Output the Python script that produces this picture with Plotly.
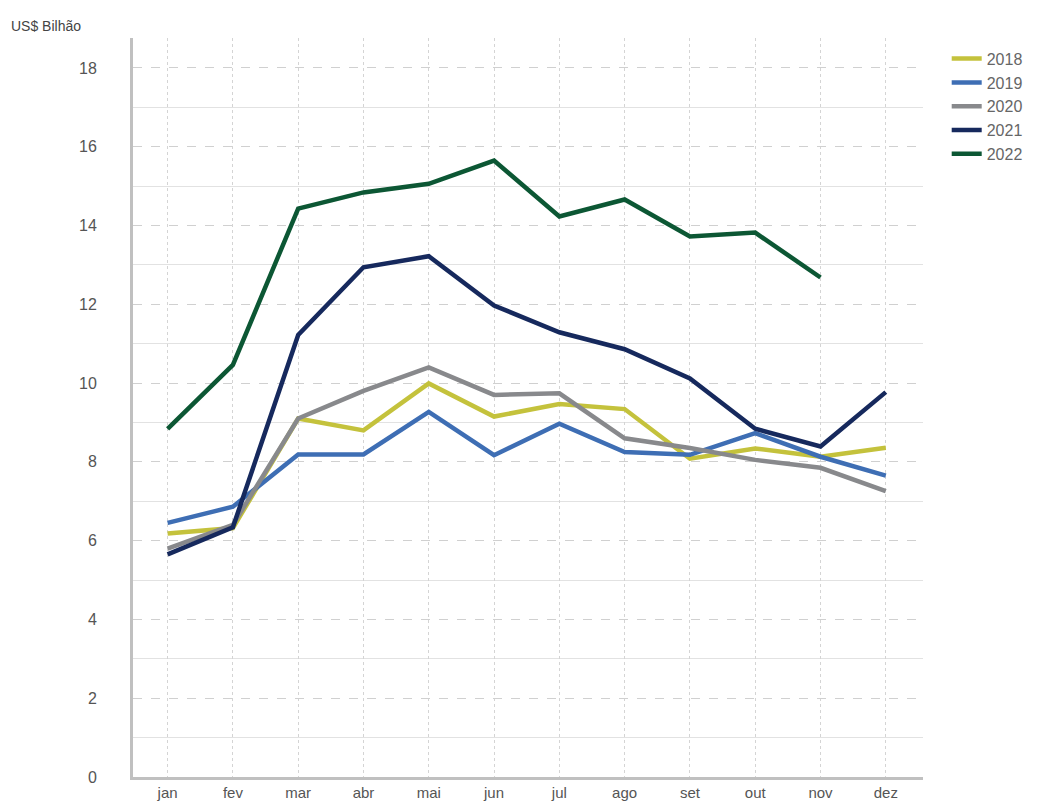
import plotly.graph_objects as go

months = ["jan", "fev", "mar", "abr", "mai", "jun", "jul", "ago", "set", "out", "nov", "dez"]

v2018 = [6.18, 6.32, 9.10, 8.80, 9.99, 9.15, 9.47, 9.34, 8.08, 8.34, 8.13, 8.36]
v2019 = [6.45, 6.86, 8.19, 8.19, 9.27, 8.17, 8.97, 8.25, 8.18, 8.73, 8.13, 7.65]
v2020 = [5.80, 6.40, 9.10, 9.80, 10.40, 9.70, 9.74, 8.60, 8.35, 8.05, 7.85, 7.26]
v2021 = [5.65, 6.34, 11.22, 12.94, 13.22, 11.97, 11.29, 10.86, 10.12, 8.84, 8.39, 9.77]
v2022 = [8.84, 10.46, 14.43, 14.84, 15.06, 15.65, 14.23, 14.66, 13.72, 13.82, 12.68]

series = [
    ("2018", v2018, "#c4c23c"),
    ("2019", v2019, "#3e6eb4"),
    ("2020", v2020, "#88898c"),
    ("2021", v2021, "#16295d"),
    ("2022", v2022, "#0c5734"),
]

fig = go.Figure()
for name, vals, color in series:
    fig.add_trace(go.Scatter(
        x=months[:len(vals)], y=vals, name=name, mode="lines",
        line=dict(color=color, width=4.5),
    ))

font = "Liberation Sans, Arial, sans-serif"
fig.update_layout(
    width=1040, height=802,
    margin=dict(l=133, r=117, t=38, b=25),
    paper_bgcolor="white", plot_bgcolor="white",
    font=dict(family=font, size=16, color="#555555"),
    showlegend=True,
    legend=dict(
        x=1.03, y=0.995, xanchor="left", yanchor="top",
        font=dict(size=16, color="#666666"),
        bgcolor="rgba(0,0,0,0)", tracegroupgap=0, itemwidth=30,
    ),
    xaxis=dict(
        type="category", categoryorder="array", categoryarray=months,
        range=[-0.53, 11.57], automargin=False,
        showgrid=True, gridcolor="#d4d4d4", griddash="dot", gridwidth=1,
        showline=True, linecolor="#c0c0c0", linewidth=3,
        ticks="", ticklabelstandoff=0,
        tickfont=dict(size=15, color="#555555"),
        zeroline=False,
    ),
    yaxis=dict(
        range=[0, 18.76], tickvals=[0, 2, 4, 6, 8, 10, 12, 14, 16, 18],
        automargin=False,
        showgrid=True, gridcolor="#d0d0d0", griddash="dash", gridwidth=1,
        minor=dict(tickvals=[1, 3, 5, 7, 9, 11, 13, 15, 17],
                   showgrid=True, gridcolor="#e2e2e2", griddash="solid", gridwidth=1),
        showline=True, linecolor="#c0c0c0", linewidth=3,
        ticks="", ticklabelstandoff=30,
        tickfont=dict(size=16, color="#555555"),
        zeroline=False,
    ),
    annotations=[dict(
        text="US$ Bilhão", xref="paper", yref="paper",
        x=-0.157, y=1.0, xanchor="left", yanchor="bottom",
        yshift=2, showarrow=False,
        font=dict(family=font, size=14, color="#444444"),
    )],
)

fig.write_html("out.html")
